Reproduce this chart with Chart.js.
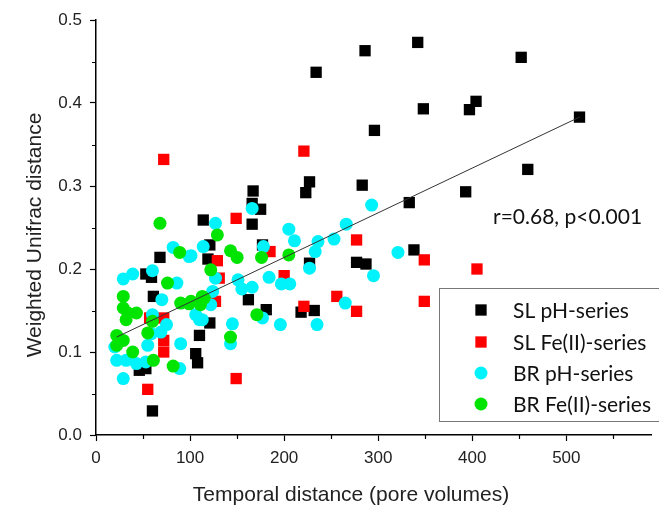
<!DOCTYPE html>
<html>
<head>
<meta charset="utf-8">
<script src="https://cdn.jsdelivr.net/npm/chart.js@4.4.1/dist/chart.umd.min.js"></script>
<style>
  body { margin: 0; background: #fff; }
  #wrap { width: 659px; height: 506px; }
</style>
</head>
<body>
<div id="wrap"><canvas id="chart"></canvas></div>
<script>
// series names, in legend order
const seriesNames = ['SL pH-series', 'SL Fe(II)-series', 'BR pH-series', 'BR Fe(II)-series'];

// SL pH-series (black squares)
const slPhX = [286, 342, 234, 452, 404, 397, 348, 296, 459, 393, 333, 283, 227, 223, 514, 338, 277, 287, 227, 218, 232,
  167, 166, 175, 166, 114, 121, 119, 177, 162, 181, 121, 110, 106, 108, 68, 53, 59, 61, 46, 53, 60];
const slPhY = [0.463, 0.473, 0.437, 0.455, 0.402, 0.392, 0.393, 0.367, 0.320, 0.293, 0.280, 0.301, 0.305, 0.292, 0.383, 0.223, 0.208, 0.206, 0.207, 0.148, 0.150,
  0.294, 0.279, 0.272, 0.254, 0.259, 0.229, 0.212, 0.229, 0.163, 0.151, 0.135, 0.120, 0.098, 0.087, 0.214, 0.194, 0.190, 0.167, 0.078, 0.080, 0.029];

// SL Fe(II)-series (red squares)
const slFeX = [72, 221, 277, 349, 405, 349, 256, 277, 221, 200, 149, 185, 129, 131, 127, 149, 57, 72, 72, 72, 55];
const slFeY = [0.332, 0.342, 0.235, 0.211, 0.200, 0.161, 0.167, 0.149, 0.155, 0.192, 0.261, 0.221, 0.210, 0.189, 0.161, 0.068, 0.141, 0.141, 0.114, 0.100, 0.055];

// BR pH-series (cyan circles)
const brPhX = [293, 266, 205, 211, 236, 253, 233, 321, 227, 295, 197, 206, 265, 235, 196, 127, 166, 114, 178, 101, 127,
  151, 155, 166, 184, 124, 122, 110, 145, 143, 177, 82, 99, 60, 29, 39, 86, 70, 75, 69, 55, 90, 22, 32, 43, 53, 89, 29,
  59, 60, 113, 106, 20];
const brPhY = [0.277, 0.254, 0.248, 0.234, 0.233, 0.236, 0.221, 0.220, 0.201, 0.192, 0.182, 0.182, 0.159, 0.133, 0.133, 0.255, 0.273, 0.227, 0.227, 0.216, 0.189,
  0.187, 0.176, 0.178, 0.190, 0.173, 0.157, 0.139, 0.134, 0.110, 0.141, 0.226, 0.215, 0.198, 0.188, 0.194, 0.183, 0.163, 0.133, 0.124, 0.108, 0.110, 0.090, 0.090, 0.086, 0.088, 0.080, 0.068,
  0.122, 0.145, 0.139, 0.145, 0.106];

// BR Fe(II)-series (green circles)
const brFeX = [205, 129, 143, 150, 176, 122, 113, 101, 171, 143, 68, 89, 76, 29, 90, 99, 111, 115, 29, 34, 43, 32, 60, 55, 22, 22, 29, 39, 61, 82];
const brFeY = [0.217, 0.241, 0.222, 0.214, 0.214, 0.199, 0.167, 0.161, 0.145, 0.118, 0.255, 0.220, 0.183, 0.167, 0.159, 0.158, 0.157, 0.165, 0.153, 0.147, 0.147, 0.139, 0.137, 0.123, 0.120, 0.108, 0.114, 0.100, 0.090, 0.083];

// regression line end points
const fitX = [22, 514];
const fitY = [0.118, 0.383];

const annotation = 'r=0.68, p<0.001';
const xTitle = 'Temporal distance (pore volumes)';
const yTitle = 'Weighted Unifrac distance';

function toPoints(xs, ys) {
  return xs.map((x, i) => ({ x: x, y: ys[i] }));
}

const tickFont = { family: 'Liberation Sans', size: 17 };
const titleFont = '21px "Liberation Sans"';
const noteFont = '21px Lato';
const legendFont = '21px Lato';

// white background
const whiteBg = {
  id: 'whiteBg',
  beforeDraw(chart) {
    const c = chart.ctx;
    c.save();
    c.fillStyle = '#fff';
    c.fillRect(0, 0, chart.width, chart.height);
    c.restore();
  }
};

// short minor ticks between the labelled ones, plus the axis titles
const minorTicks = {
  id: 'minorTicks',
  afterDraw(chart) {
    const c = chart.ctx;
    const xs = chart.scales.x, ys = chart.scales.y;
    c.save();
    c.strokeStyle = '#000';
    c.lineWidth = 1.2;
    c.beginPath();
    for (let v = 50; v < xs.max; v += 100) {
      const px = Math.round(xs.getPixelForValue(v)) + 0.5;
      c.moveTo(px, ys.bottom);
      c.lineTo(px, ys.bottom + 4);
    }
    for (let v = 0.05; v < ys.max; v += 0.1) {
      const py = Math.round(ys.getPixelForValue(v)) + 0.5;
      c.moveTo(xs.left - 4, py);
      c.lineTo(xs.left, py);
    }
    c.stroke();

    c.fillStyle = '#222';
    c.font = titleFont;
    c.textAlign = 'center';
    c.textBaseline = 'middle';
    c.fillText(xTitle, 351, 495);
    c.translate(35, 235);
    c.rotate(-Math.PI / 2);
    c.fillText(yTitle, 0, 0);
    c.restore();
  }
};

// boxed legend in the lower right and the r / p note
const legendBox = {
  id: 'legendBox',
  afterDraw(chart) {
    const c = chart.ctx;
    const x0 = 439, y0 = 288, w = 222, h = 133;
    c.save();
    c.fillStyle = '#fff';
    c.fillRect(x0, y0, w, h);
    c.strokeStyle = '#777';
    c.lineWidth = 1;
    c.strokeRect(x0 + 0.5, y0 + 0.5, w, h);

    const rows = [310, 342, 373, 404];
    chart.data.datasets.filter(d => seriesNames.includes(d.label)).forEach(d => {
      const i = seriesNames.indexOf(d.label);
      const cy = rows[i], cx = 481;
      c.fillStyle = d.backgroundColor;
      if (d.pointStyle === 'rect') {
        const s = d.pointRadius * Math.SQRT1_2;
        c.fillRect(cx - s, cy - s, 2 * s, 2 * s);
      } else {
        c.beginPath();
        c.arc(cx, cy, d.pointRadius, 0, Math.PI * 2);
        c.fill();
      }
      c.fillStyle = '#111';
      c.font = legendFont;
      c.textAlign = 'left';
      c.textBaseline = 'middle';
      c.fillText(d.label, 513, cy + 1);
    });

    c.font = noteFont;
    c.fillStyle = '#111';
    c.textAlign = 'left';
    c.textBaseline = 'middle';
    c.fillText(annotation, 493, 217);
    c.restore();
  }
};

const ctx = document.getElementById('chart').getContext('2d');

new Chart(ctx, {
  type: 'scatter',
  data: {
    datasets: [
      {
        type: 'line',
        label: 'fit',
        data: toPoints(fitX, fitY),
        borderColor: '#333',
        borderWidth: 1,
        pointRadius: 0,
        fill: false,
        order: 0
      },
      {
        label: seriesNames[0],
        data: toPoints(slPhX, slPhY),
        pointStyle: 'rect',
        pointRadius: 8,
        backgroundColor: '#000000',
        borderWidth: 0,
        order: 4
      },
      {
        label: seriesNames[1],
        data: toPoints(slFeX, slFeY),
        pointStyle: 'rect',
        pointRadius: 8,
        backgroundColor: '#ff0000',
        borderWidth: 0,
        order: 3
      },
      {
        label: seriesNames[2],
        data: toPoints(brPhX, brPhY),
        pointStyle: 'circle',
        pointRadius: 6.5,
        backgroundColor: '#00f2fa',
        borderWidth: 0,
        order: 2
      },
      {
        label: seriesNames[3],
        data: toPoints(brFeX, brFeY),
        pointStyle: 'circle',
        pointRadius: 6.5,
        backgroundColor: '#00e400',
        borderWidth: 0,
        order: 1
      }
    ]
  },
  options: {
    responsive: true,
    maintainAspectRatio: false,
    animation: false,
    layout: { padding: { top: 20, right: 4, left: 0, bottom: 0 } },
    plugins: {
      legend: { display: false },
      tooltip: { enabled: false }
    },
    scales: {
      x: {
        type: 'linear',
        min: 0,
        max: 590,
        border: { color: '#000', width: 1.5 },
        grid: {
          drawOnChartArea: false,
          tickLength: 6,
          tickWidth: 1.2,
          tickColor: c => (c.tick && c.tick.value % 100 === 0) ? '#000' : 'rgba(0,0,0,0)'
        },
        ticks: {
          stepSize: 50,
          includeBounds: false,
          autoSkip: false,
          maxRotation: 0,
          padding: 7,
          font: tickFont,
          color: '#222',
          callback: v => (v % 100 === 0 ? String(v) : '')
        },
        afterFit: s => { s.height = 71; }
      },
      y: {
        min: 0,
        max: 0.5,
        border: { color: '#000', width: 1.5 },
        grid: {
          drawOnChartArea: false,
          tickLength: 6,
          tickWidth: 1.2,
          tickColor: c => (c.tick && Math.round(c.tick.value * 100) % 10 === 0) ? '#000' : 'rgba(0,0,0,0)'
        },
        ticks: {
          stepSize: 0.05,
          autoSkip: false,
          padding: 8,
          font: tickFont,
          color: '#222',
          callback: v => (Math.round(v * 100) % 10 === 0 ? v.toFixed(1) : '')
        },
        afterFit: s => { s.width = 96; }
      }
    }
  },
  plugins: [whiteBg, minorTicks, legendBox]
});
</script>
</body>
</html>
